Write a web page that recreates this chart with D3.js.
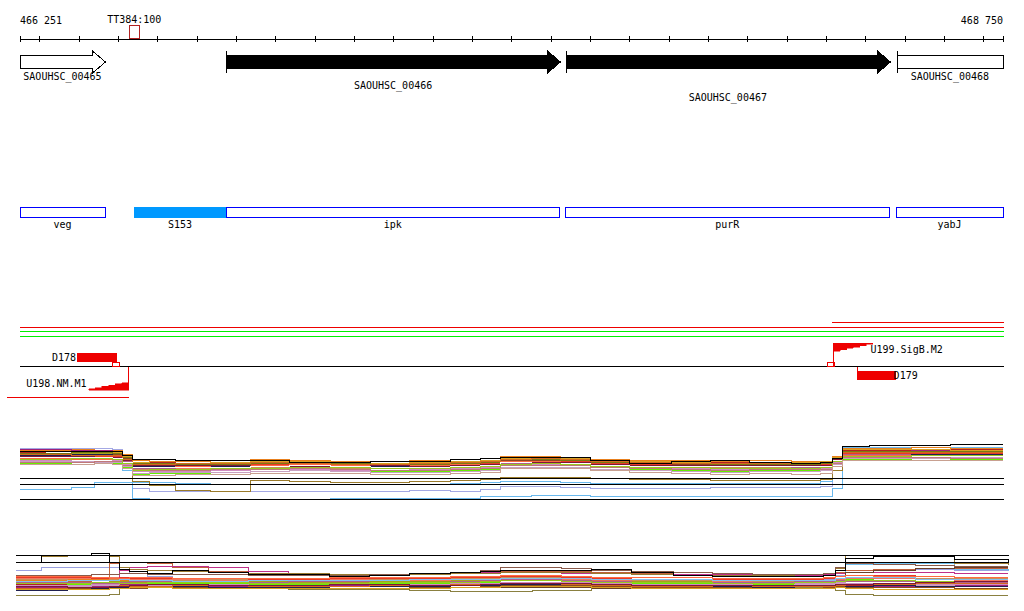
<!DOCTYPE html>
<html><head><meta charset="utf-8">
<script src="https://cdn.jsdelivr.net/npm/d3@7"></script>
<style>
html,body{margin:0;padding:0;background:#fff;}
svg{display:block;}
text{font-family:"DejaVu Sans Mono","Liberation Mono",monospace;font-size:10px;fill:#000;}
</style></head><body>
<svg id="chart" width="1024" height="611"></svg>
<script>
// ---------------- data ----------------
const viewStart = 466251, viewEnd = 468750;
const axisLabels = ["466 251", "468 750"];
const tickStep = 100;

const markerNames = ["TT384:100"];
const markerStarts = [466529];
const markerEnds = [466554];

const geneNames  = ["SAOUHSC_00465", "SAOUHSC_00466", "SAOUHSC_00467", "SAOUHSC_00468"];
const geneStarts = [466150, 466775, 467638, 468480];
const geneEnds   = [466467, 467624, 468463, 468900];
const geneClass  = ["flank", "focus", "focus", "flank"];

const regionNames  = ["veg", "S153", "ipk", "purR", "yabJ"];
const regionStarts = [466150, 466541, 466775, 467637, 468478];
const regionEnds   = [466467, 466775, 467622, 468461, 468900];
const regionClass  = ["cds", "srna", "cds", "cds", "cds"];

const segStarts = [468315, 466251, 466251, 466251, 466251, 466218];
const segEnds   = [468750, 468750, 468750, 468750, 468750, 466525];
const segClass  = ["red", "red", "green", "green", "axis", "red"];

const siteNames  = ["D178", "D179"];
const siteStarts = [466396, 468378];
const siteEnds   = [466497, 468477];

const promNames   = ["U198.NM.M1", "U199.SigB.M2"];
const promPos     = [466525, 468317];
const promLen     = [101, 99];
const promStrand  = ["-", "+"];
const tssStarts   = [466486, 468302];
const tssEnds     = [466503, 468319];

const positions = [466251,466315,466380,466440,466485,466510,466535,466580,466645,466735,466835,466935,467040,467140,467240,467345,467420,467470,467550,467625,467700,467800,467905,468005,468105,468210,468285,468315,468340,468410,468515,468615,468750];

const refA = [22, 16, 1];
const profileA = [
 [52,52,52,52,51,40,12,9,9,9,9,9,9,9,10,9,11,14,14,13,12,12,12,13,13,13,14,22,50,51,51,51,51],
 [11,11,13,18,18,18,18,18,17,16,16,16,16,16,16,17,18,19,19,18,17,17,17,17,17,17,19,30,52,53,53,53,53],
 [46,46,45,45,44,30,2,1,1,1,1,1,2,2,2,2,4,4,5,5,4,4,4,4,4,4,4,12,53,53,53,53,53],
 [45,45,46,46,45,35,19,15,10,9,20,19,18,18,19,20,21,23,23,23,22,21,21,20,20,20,21,30,42,42,42,42,42],
 [50,50,51,50,50,46,40,39,39,40,41,40,39,39,40,41,42,44,44,43,41,40,40,39,40,39,39,44,52,52,53,52,52],
 [48,49,49,48,48,44,38,38,37,37,38,38,37,36,37,38,39,41,42,41,39,38,38,38,37,37,38,42,50,50,50,51,51],
 [51,51,50,50,49,45,37,36,36,37,37,36,36,36,35,37,38,42,41,40,38,37,36,37,37,36,37,43,49,49,50,50,50],
 [37,37,38,38,37,33,26,27,27,28,29,30,30,29,29,30,31,35,36,36,33,31,30,29,30,30,31,38,41,41,42,41,41],
 [46,46,47,47,46,42,34,34,35,35,36,35,35,34,35,36,37,40,40,39,37,36,35,35,35,34,35,41,47,47,48,47,47],
 [44,44,44,45,44,40,33,33,32,32,33,33,34,33,33,34,35,38,38,37,35,34,34,33,33,33,34,40,46,46,46,45,45],
 [40,40,41,41,40,36,29,29,29,30,31,31,30,30,31,32,33,36,36,35,33,32,32,31,31,31,32,38,44,44,43,43,43],
 [39,39,39,38,38,34,27,28,28,28,29,30,29,28,28,29,30,33,33,33,31,30,29,28,29,29,30,36,42,42,42,43,43],
 [47,47,46,46,46,42,35,35,36,36,36,35,35,35,36,37,37,40,40,40,38,37,36,36,36,35,36,42,48,48,49,48,48],
 [42,42,43,43,42,38,31,31,31,32,33,33,32,32,33,34,34,37,38,37,35,34,33,33,33,32,33,39,45,45,45,46,46],
 [45,45,45,44,44,41,36,36,35,35,36,36,36,35,35,36,37,39,39,39,37,36,35,35,35,35,36,42,47,47,47,47,47],
 [43,43,42,42,42,39,32,32,33,33,34,34,33,32,32,33,34,37,37,36,34,33,33,34,34,33,34,40,46,46,45,45,45],
 [45,45,46,46,45,41,34,34,34,34,35,36,35,34,34,35,36,38,38,38,36,35,35,35,34,34,35,41,45,45,46,46,46],
 [49,49,48,48,48,44,38,37,37,38,39,39,38,37,38,39,40,42,42,42,40,39,38,37,38,38,39,43,51,51,51,50,50],
 [47,47,48,48,47,43,37,37,36,36,37,37,37,36,36,37,38,41,41,40,38,37,37,36,36,36,37,42,49,49,49,49,49],
 [42,42,41,41,41,38,35,35,34,35,35,36,35,35,35,36,36,39,39,38,36,35,35,35,35,34,35,41,45,45,44,44,44],
 [44,44,44,43,43,40,35,35,35,35,34,34,34,35,34,35,36,38,38,38,36,35,35,35,35,35,35,41,44,44,44,44,44],
 [38,38,38,39,39,35,30,30,30,31,31,32,31,30,30,31,32,35,35,35,33,32,31,30,31,31,31,37,43,43,43,42,42],
 [46,46,45,45,45,41,36,36,37,37,38,37,36,36,37,38,39,41,42,41,39,38,37,37,37,37,38,42,48,48,48,48,48],
 [43,43,43,43,42,38,33,33,33,33,34,35,34,33,33,34,35,38,37,37,35,34,34,34,34,34,34,40,44,44,44,44,44],
 [41,41,42,42,41,37,30,31,31,32,32,33,33,32,32,33,34,36,37,36,34,33,33,32,32,32,33,39,44,44,45,45,45],
 [36,36,36,37,36,32,25,25,26,26,27,27,27,26,26,27,28,32,32,32,30,28,27,26,27,26,27,34,40,40,40,40,40],
 [49,49,49,49,49,45,41,41,40,40,40,38,38,39,39,41,42,43,43,43,40,37,39,40,38,37,38,42,54,55,55,56,56]
];
const colorsA = ["#a4a8e4","#6ab8ec","#6ab8ec","#9a7a2a","#e8801e","#b22222","#a0207a","#66ee00","#a4a41c","#f07860","#d08cc0","#c8a0c0","#8b4a20","#c89058","#e83a28","#b0608c","#202050","#d8a020","#7a7a10","#ff6a40","#801838","#c07878","#d2691e","#ffffff","#98c820","#c8a090","#000000"];

const refB = [45, 38];
const profileB = [
 [30,33,33,33,33,30,27,24,22,21,21,20,20,20,21,21,22,23,23,22,21,21,20,20,20,20,21,25,30,31,31,30,30],
 [18,18,19,21,37,38,38,37,33,29,27,26,26,26,27,28,28,29,29,29,28,27,26,26,25,25,26,28,30,31,32,32,32],
 [14,15,15,16,19,30,33,34,34,33,29,27,26,26,26,27,28,28,28,27,27,26,26,26,26,25,26,27,28,28,28,27,27],
 [15,15,15,16,16,16,16,17,17,17,17,17,17,17,17,17,18,18,18,18,18,18,18,18,18,18,18,24,36,37,37,31,30],
 [11,11,12,12,12,13,13,13,12,12,12,12,12,12,12,13,13,13,13,13,12,12,12,12,12,12,13,20,28,30,32,33,33],
 [5,5,5,5,6,12,14,14,13,12,12,11,11,11,10,9,9,9,10,10,13,13,13,13,13,13,13,10,6,5,5,5,5],
 [38,44,45,47,44,33,31,30,29,28,27,27,26,26,26,27,27,28,28,28,27,26,25,25,25,24,25,32,45,45,44,37,36],
 [20,20,21,21,20,20,19,19,18,18,18,17,18,18,19,19,20,21,21,20,19,18,18,18,17,17,18,18,17,17,16,16,16],
 [16,16,17,17,17,16,16,17,17,16,16,16,15,16,16,17,17,18,18,18,17,16,16,16,16,15,15,16,15,15,17,18,18],
 [13,13,14,14,14,16,16,15,15,14,14,15,15,15,14,15,16,17,17,17,16,15,15,14,14,14,15,15,14,14,15,15,15],
 [17,17,16,16,17,18,18,17,17,17,16,16,16,17,17,18,18,20,20,19,18,17,17,17,16,16,17,20,21,19,18,17,17],
 [19,19,18,18,19,19,18,18,19,19,19,18,18,19,19,20,20,22,22,21,20,19,19,19,18,18,19,21,22,20,19,19,19],
 [22,22,22,22,23,22,21,21,21,20,20,21,21,20,20,21,22,22,22,21,20,20,20,19,19,20,20,21,22,22,21,20,20],
 [15,15,15,16,16,15,15,15,16,16,17,17,17,16,16,17,17,18,18,18,17,16,16,16,17,17,17,18,17,16,16,16,16],
 [14,14,14,15,15,14,14,14,14,15,15,15,14,14,15,16,16,17,17,17,16,15,15,15,15,16,16,17,16,15,15,14,14],
 [12,12,12,13,13,12,12,13,13,13,13,12,12,12,13,13,14,15,15,15,14,13,13,13,12,12,13,14,13,13,13,12,12],
 [21,21,20,20,21,21,20,20,20,21,21,20,20,21,21,22,22,23,23,22,21,20,20,20,19,19,20,22,23,23,22,22,22],
 [23,23,23,22,22,23,22,22,22,22,21,21,22,22,22,23,23,24,24,23,22,21,21,21,21,21,22,24,25,25,24,23,23],
 [18,18,18,17,17,18,19,19,18,18,18,19,19,18,18,19,20,21,21,20,19,18,18,18,18,19,19,20,19,19,18,18,18],
 [10,10,11,12,13,13,14,14,14,13,13,13,14,14,14,15,15,16,16,16,15,14,14,14,13,12,12,13,14,15,14,14,14],
 [11,11,11,11,12,12,13,13,12,12,12,12,12,12,12,13,13,14,14,14,13,12,12,12,12,12,12,13,12,11,11,11,11],
 [12,12,13,13,14,15,14,14,15,15,14,14,14,15,15,16,16,17,17,16,15,14,14,15,14,14,14,15,16,16,17,17,17],
 [19,19,20,20,20,21,20,20,19,19,20,20,20,20,21,21,21,22,22,22,21,21,21,20,20,20,20,22,23,23,21,21,21],
 [17,17,17,18,18,17,17,18,18,18,17,17,17,18,18,18,19,20,20,19,18,18,18,17,17,18,18,19,20,20,19,19,19],
 [24,24,24,23,22,22,23,23,22,22,22,22,23,23,23,24,24,25,25,24,23,23,23,22,22,22,23,24,25,24,24,23,23],
 [14,14,13,13,14,14,15,16,16,15,15,15,16,16,15,15,16,17,17,17,16,15,15,15,15,15,15,16,16,17,18,19,19],
 [25,25,25,26,26,27,27,26,26,26,25,25,25,26,27,28,30,33,33,32,30,29,28,27,26,26,27,33,37,36,35,34,34],
 [38,45,45,47,38,31,29,27,30,28,26,26,24,25,27,28,29,30,30,30,31,28,25,24,24,24,25,30,42,44,44,41,39]
];
const colorsB = ["#9aa0e0","#c0603a","#c0308a","#70c0f0","#6a4028","#8a8040","#9a7a30","#e8801e","#b22222","#a0207a","#66ee00","#a4a41c","#f07860","#d08cc0","#c8a0c0","#8b4a20","#c89058","#e83a28","#b0608c","#202050","#d8a020","#d2691e","#80c0f0","#98c820","#ff6a40","#801838","#8a5a4a","#000000"];

// ---------------- layout / style ----------------
const X0 = 20, X1 = 1003;
const svg = d3.select("#chart");
const x = d3.scaleLinear().domain([viewStart, viewEnd]).range([X0, X1]);
const xb = d3.scaleLinear().domain([viewStart, viewEnd]).range([16, 1008]);
const clampX = v => Math.max(X0, Math.min(X1, v));
const px = v => Math.round(v) + 0.5;

// axis
const ticks = [viewStart].concat(d3.range(Math.ceil(viewStart / tickStep) * tickStep, viewEnd, tickStep), [viewEnd]);
const ag = svg.append("g").attr("transform", "translate(0,38.5)")
  .call(d3.axisBottom(x).tickValues(ticks).tickFormat("").tickSizeOuter(0).tickSizeInner(3));
ag.select(".domain").attr("stroke", "#000").attr("shape-rendering", "crispEdges");
ag.selectAll(".tick line").attr("y1", -3).attr("y2", 3).attr("stroke", "#000").attr("shape-rendering", "crispEdges");
svg.append("text").attr("x", X0).attr("y", 24).text(axisLabels[0]);
svg.append("text").attr("x", X1).attr("y", 24).attr("text-anchor", "end").text(axisLabels[1]);

// marker
markerNames.forEach((n, i) => {
  const a = x(markerStarts[i]), b = x(markerEnds[i]);
  svg.append("rect").attr("x", px(a)).attr("y", 25.5).attr("width", Math.round(b - a)).attr("height", 13)
    .attr("fill", "none").attr("stroke", "#b22222").attr("shape-rendering", "crispEdges");
  svg.append("text").attr("x", (a + b) / 2).attr("y", 23).attr("text-anchor", "middle").text(n);
});

// genes
const geneLaneY = [80, 89, 101];
const geneLane = [0, 1, 2, 0];
const gg = svg.append("g").attr("shape-rendering", "crispEdges");
geneNames.forEach((n, i) => {
  const a = x(geneStarts[i]), b = x(geneEnds[i]);
  const a0 = px(clampX(a)), b0 = px(clampX(b));
  const fill = geneClass[i] === "focus" ? "#000" : "#fff";
  let d;
  if (b <= X1) {
    const h = px(b - 13);
    d = `M${a0},55.5H${h}V51L${px(b)},62L${h},73V68.5H${a0}Z`;
  } else {
    d = `M${a0},55.5H${b0}V68.5H${a0}Z`;
  }
  gg.append("path").attr("d", d).attr("fill", fill).attr("stroke", "#000").attr("stroke-width", 1);
  if (a >= X0) gg.append("line").attr("x1", px(a)).attr("x2", px(a)).attr("y1", 51).attr("y2", 73).attr("stroke", "#000");
  svg.append("text").attr("x", (clampX(a) + clampX(b)) / 2).attr("y", geneLaneY[geneLane[i]])
    .attr("text-anchor", "middle").text(n);
});

// regions
const rg = svg.append("g").attr("shape-rendering", "crispEdges");
regionNames.forEach((n, i) => {
  const a = clampX(x(regionStarts[i])), b = clampX(x(regionEnds[i]));
  const filled = regionClass[i] === "srna";
  rg.append("rect").attr("x", px(a)).attr("y", 207.5).attr("width", Math.round(b - a)).attr("height", 10)
    .attr("fill", filled ? "#0099ff" : "#fff").attr("stroke", filled ? "#0099ff" : "#0000ff");
  svg.append("text").attr("x", (a + b) / 2).attr("y", 228).attr("text-anchor", "middle").text(n);
});

// segments track
const segY = [322.5, 327.5, 331.5, 336.5, 366.5, 397.5];
const segColor = {red: "#ee0000", green: "#00ee00", axis: "#000"};
const sg = svg.append("g").attr("shape-rendering", "crispEdges");
segStarts.forEach((s, i) => {
  sg.append("line").attr("x1", Math.round(x(s))).attr("x2", Math.round(x(segEnds[i])) + 1)
    .attr("y1", segY[i]).attr("y2", segY[i]).attr("stroke", segColor[segClass[i]]);
});

// sites (D178 above axis, D179 below with connector)
const siteTop = [353, 371];
siteNames.forEach((n, i) => {
  const a = x(siteStarts[i]), b = x(siteEnds[i]);
  sg.append("rect").attr("x", Math.round(a)).attr("y", siteTop[i]).attr("width", Math.round(b - a)).attr("height", 9).attr("fill", "#ee0000");
  if (i === 1) sg.append("line").attr("x1", px(a)).attr("x2", px(a)).attr("y1", 366.5).attr("y2", 380).attr("stroke", "#ee0000");
  if (i === 0) svg.append("text").attr("x", a - 1).attr("y", 361).attr("text-anchor", "end").text(n);
  else svg.append("text").attr("x", b - 2).attr("y", 379).text(n);
});

// promoters with stepped flags
tssStarts.forEach((s, i) => {
  const a = x(s), b = x(tssEnds[i]);
  sg.append("rect").attr("x", px(a)).attr("y", 362.5).attr("width", Math.round(b - a)).attr("height", 4)
    .attr("fill", "#fff").attr("stroke", "#ee0000");
});
promNames.forEach((n, i) => {
  const p = px(x(promPos[i]));
  const fwd = promStrand[i] === "+";
  const tip = px(x(promPos[i] + (fwd ? promLen[i] : -promLen[i])));
  const yFlag = fwd ? 343 : 390;   // outer edge of flag
  const h = fwd ? 8 : -7.5;          // depth toward axis
  const yEnd = fwd ? 366.5 : 366.5;
  sg.append("line").attr("x1", p).attr("x2", p).attr("y1", yEnd).attr("y2", yFlag).attr("stroke", "#ee0000");
  const steps = 6;
  let d = `M${p},${yFlag}H${tip}`;
  for (let k = 1; k <= steps; k++) {
    const yy = yFlag + h * k / steps;
    const xx = tip + (p - tip) * k / steps;
    d += `V${yy}H${xx}`;
  }
  d += "Z";
  sg.append("path").attr("d", d).attr("fill", "#ee0000").attr("stroke", "#ee0000").attr("stroke-width", 0.5);
  if (fwd) svg.append("text").attr("x", tip - 2).attr("y", 353).text(n);
  else svg.append("text").attr("x", tip - 2).attr("y", 387).attr("text-anchor", "end").text(n);
});

// profile tracks
function drawProfiles(rows, colors, xs, ys, refs, x0, x1) {
  const line = d3.line().curve(d3.curveStepAfter)
    .x((d, i) => Math.round(xs(positions[i]))).y(d => ys(d));
  const g = svg.append("g").attr("shape-rendering", "crispEdges");
  g.selectAll("path").data(rows).join("path")
    .attr("d", line).attr("fill", "none")
    .attr("stroke", (d, i) => colors[i]).attr("stroke-width", 1);
  g.selectAll("line").data(refs).join("line")
    .attr("x1", x0).attr("x2", x1).attr("y1", d => ys(d)).attr("y2", d => ys(d))
    .attr("stroke", "#000").attr("stroke-width", 1);
}
const yA = d3.scaleLinear().domain([0, 60]).range([500.5, 440.5]);
const yB = d3.scaleLinear().domain([0, 50]).range([600.5, 550.5]);
drawProfiles(profileA, colorsA, x, yA, refA, X0, X1 + 1);
drawProfiles(profileB, colorsB, xb, yB, refB, 16, 1009);
</script>
</body></html>
